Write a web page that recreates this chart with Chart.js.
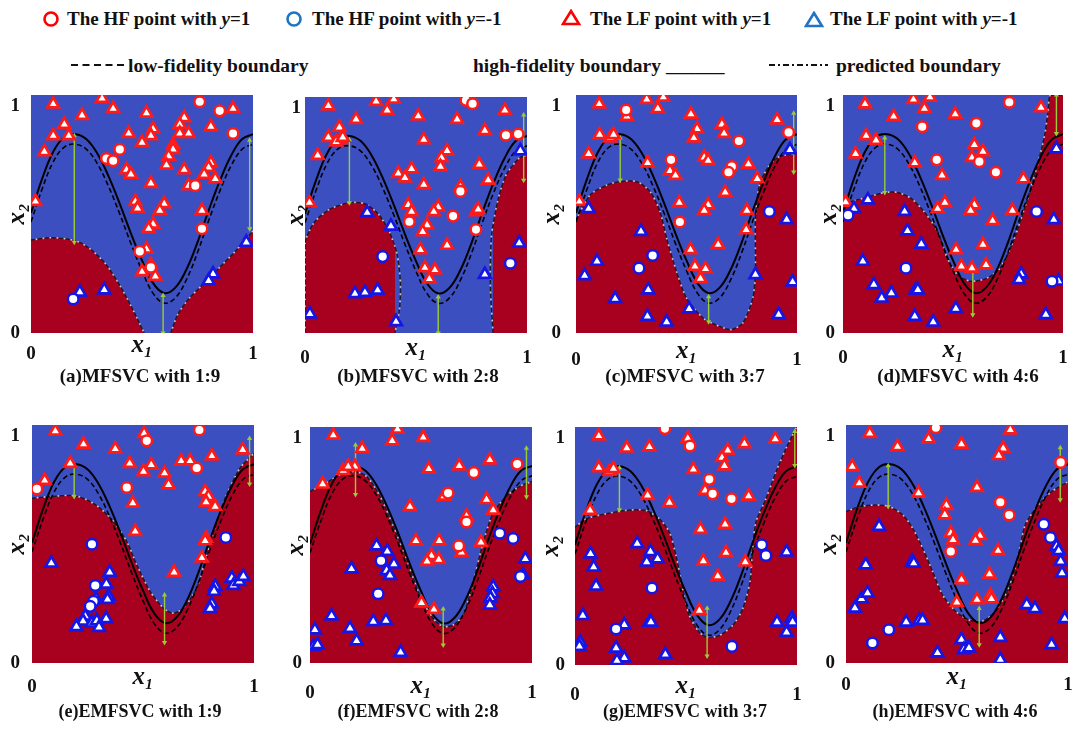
<!DOCTYPE html>
<html><head><meta charset="utf-8">
<script src="https://cdn.jsdelivr.net/npm/chart.js@4.4.0/dist/chart.umd.min.js"></script>
<style>
body{margin:0;width:1073px;height:737px;background:#fff;position:relative;overflow:hidden;font-family:"Liberation Serif","Times New Roman",serif;}
.lg{position:absolute;font-weight:bold;font-size:19px;white-space:nowrap;line-height:1;color:#111;}
.lg2{font-size:19.5px;}
.lg i{font-style:italic;}
.cap{position:absolute;font-weight:bold;white-space:nowrap;line-height:1;transform:translateX(-50%);color:#111;}
canvas{position:absolute;}
svg{position:absolute;}
</style></head><body>

<svg style="left:42px;top:10px" width="18" height="18"><circle cx="9" cy="9" r="6.5" fill="none" stroke="#ff0000" stroke-width="2.6"/></svg>
<div class="lg" style="left:67px;top:9px">The HF point with <i>y</i>=1</div>
<svg style="left:285px;top:10px" width="18" height="18"><circle cx="9" cy="9" r="6.5" fill="none" stroke="#1f74c4" stroke-width="2.6"/></svg>
<div class="lg" style="left:312px;top:9px">The HF point with <i>y</i>=-1</div>
<svg style="left:561px;top:9px" width="20" height="18"><polygon points="10,2 18,15 2,15" fill="none" stroke="#ff0000" stroke-width="2.6"/></svg>
<div class="lg" style="left:590px;top:9px">The LF point with <i>y</i>=1</div>
<svg style="left:804px;top:11px" width="20" height="18"><polygon points="10,2 18,15 2,15" fill="none" stroke="#1f74c4" stroke-width="2.6"/></svg>
<div class="lg" style="left:830px;top:9px">The LF point with <i>y</i>=-1</div>

<svg style="left:70px;top:60px" width="56" height="10"><line x1="1" y1="5" x2="55" y2="5" stroke="#111" stroke-width="2" stroke-dasharray="7,4.5"/></svg>
<div class="lg lg2" style="left:128px;top:56px">low-fidelity boundary</div>
<div class="lg lg2" style="left:473px;top:56px">high-fidelity boundary ______</div>
<svg style="left:768px;top:60px" width="62" height="10"><line x1="1" y1="5" x2="60" y2="5" stroke="#111" stroke-width="2" stroke-dasharray="6,3,2,3"/></svg>
<div class="lg lg2" style="left:836px;top:56px">predicted boundary</div>

<script>
// ---------------- data ----------------
const xTicks = [0, 1];
const yTicks = [0, 1];
const yTicksB = [1];
const captions = ['(a)MFSVC with 1:9','(b)MFSVC with 2:8','(c)MFSVC with 3:7','(d)MFSVC with 4:6',
                  '(e)EMFSVC with 1:9','(f)EMFSVC with 2:8','(g)EMFSVC with 3:7','(h)EMFSVC with 4:6'];

const boundX     = [0,0.05,0.10,0.15,0.20,0.25,0.30,0.35,0.40,0.45,0.50,0.55,0.60,0.65,0.70,0.75,0.80,0.85,0.90,0.95,1.00];
const hfBoundary = [0.53,0.68,0.80,0.865,0.877,0.855,0.79,0.69,0.57,0.44,0.32,0.22,0.176,0.20,0.28,0.40,0.54,0.67,0.78,0.855,0.877];
const lfBoundary = [0.49,0.635,0.755,0.82,0.833,0.81,0.745,0.645,0.525,0.395,0.275,0.175,0.132,0.155,0.235,0.355,0.495,0.625,0.735,0.81,0.833];

// predicted boundary (top edge of the y=-1 / red region), one or more segments per panel
const predA = [[[0,0.41],[0.08,0.42],[0.16,0.415],[0.22,0.40],[0.28,0.36],[0.34,0.30],[0.40,0.21],[0.45,0.12],[0.49,0.04],[0.51,0]],
               [[0.63,0],[0.66,0.08],[0.71,0.15],[0.77,0.21],[0.84,0.28],[0.92,0.36],[1,0.45]]];
const predB = [[[0,0],[0,0.2],[0,0.40],[0.04,0.49],[0.11,0.55],[0.20,0.58],[0.27,0.575],[0.33,0.53],[0.38,0.45],[0.415,0.35],[0.43,0.22],[0.425,0.1],[0.405,0]],
               [[0.847,0],[0.835,0.21],[0.84,0.43],[0.87,0.595],[0.907,0.705],[0.967,0.78],[1,0.79]]];
const predC = [[[0,0.50],[0.065,0.61],[0.14,0.653],[0.20,0.668],[0.275,0.668],[0.335,0.624],[0.38,0.536],[0.41,0.418],[0.455,0.27],[0.50,0.154],[0.575,0.066],[0.65,0.029],[0.703,0.015],[0.755,0.044],[0.80,0.154],[0.812,0.27],[0.812,0.507],[0.83,0.653],[0.875,0.74],[0.92,0.778],[1.0,0.793]]];
const predD = [[[0,0.565],[0.038,0.58],[0.113,0.60],[0.19,0.62],[0.248,0.62],[0.308,0.595],[0.368,0.536],[0.43,0.448],[0.474,0.33],[0.52,0.257],[0.58,0.228],[0.654,0.242],[0.714,0.286],[0.774,0.404],[0.835,0.58],[0.88,0.727],[0.917,0.874],[0.932,0.977],[0.943,1.05],[1,1.05]]];
const predE = [[[0,0.727],[0.082,0.734],[0.187,0.739],[0.247,0.72],[0.307,0.683],[0.367,0.624],[0.427,0.536],[0.472,0.433],[0.532,0.316],[0.592,0.242],[0.637,0.22],[0.682,0.242],[0.742,0.33],[0.787,0.477],[0.832,0.624],[0.877,0.742],[0.937,0.86],[1.0,0.925]]];
const predF = [[[0,0.764],[0.06,0.793],[0.135,0.837],[0.202,0.852],[0.255,0.83],[0.315,0.742],[0.375,0.609],[0.435,0.463],[0.495,0.30],[0.555,0.198],[0.60,0.162],[0.645,0.169],[0.69,0.213],[0.735,0.36],[0.78,0.536],[0.825,0.668],[0.885,0.742],[0.945,0.786],[1.0,0.808]]];
const predG = [[[0,0.608],[0.05,0.645],[0.14,0.667],[0.23,0.682],[0.32,0.682],[0.38,0.645],[0.425,0.586],[0.455,0.483],[0.485,0.336],[0.515,0.218],[0.56,0.144],[0.598,0.122],[0.65,0.13],[0.71,0.174],[0.755,0.247],[0.788,0.365],[0.80,0.513],[0.815,0.63],[0.86,0.733],[0.905,0.851],[0.95,0.954],[0.995,1.043],[1.0,1.05]]];
const predH = [[[0,0.668],[0.0625,0.69],[0.137,0.697],[0.196,0.69],[0.256,0.653],[0.30,0.595],[0.345,0.507],[0.39,0.404],[0.435,0.30],[0.494,0.228],[0.554,0.19],[0.613,0.184],[0.673,0.228],[0.732,0.33],[0.777,0.477],[0.807,0.609],[0.866,0.697],[0.926,0.756],[1.0,0.80]]];

// green gap arrows: [x, yTop, yBottom]
const arrowsA = [[0.195,0.87,0.40],[0.595,0.165,0],[0.985,0.85,0.46]];
const arrowsB = [[0.20,0.86,0.58],[0.60,0.16,0],[0.985,0.97,0.68]];
const arrowsC = [[0.20,0.86,0.675],[0.60,0.16,0.05],[0.985,0.97,0.71]];
const arrowsD = [[0.19,0.86,0.62],[0.59,0.30,0.08],[0.97,1.05,0.88]];
const arrowsE = [[0.19,0.87,0.735],[0.597,0.30,0.09],[0.98,0.99,0.79]];
const arrowsF = [[0.205,0.97,0.75],[0.60,0.24,0.08],[0.975,0.955,0.74]];
const arrowsG = [[0.20,0.87,0.685],[0.595,0.25,0.04],[0.99,1.03,0.88]];
const arrowsH = [[0.19,0.87,0.69],[0.60,0.24,0.08],[0.965,0.95,0.72]];

// samples: lfPos = LF y=1 (red triangle), hfPos = HF y=1 (red circle), lfNeg = LF y=-1, hfNeg = HF y=-1
const lfPosA = [[0.10,1.01],[0.32,1.035],[0.37,0.99],[0.23,0.96],[0.15,0.92],[0.10,0.87],[0.17,0.87],[0.06,0.80],[0.52,0.97],[0.55,0.90],[0.54,0.87],[0.44,0.88],[0.50,0.84],[0.69,0.95],[0.67,0.92],[0.67,0.88],[0.71,0.88],[0.81,0.91],[0.91,0.99],[0.64,0.83],[0.64,0.81],[0.62,0.78],[0.61,0.74],[0.69,0.72],[0.81,0.75],[0.80,0.73],[0.78,0.70],[0.83,0.68],[0.71,0.65],[0.43,0.72],[0.45,0.70],[0.54,0.66],[0.02,0.58],[0.47,0.58],[0.48,0.55],[0.60,0.57],[0.58,0.54],[0.55,0.48],[0.53,0.46],[0.77,0.54],[0.52,0.37],[0.54,0.30],[0.50,0.27],[0.56,0.25]];
const hfPosA = [[0.76,1.02],[0.85,0.98],[0.91,0.88],[0.40,0.81],[0.34,0.77],[0.37,0.76],[0.74,0.65],[0.77,0.46],[0.49,0.36],[0.54,0.29]];
const lfNegA = [[0.22,0.18],[0.33,0.19],[0.97,0.40],[0.82,0.26],[0.80,0.23]];
const hfNegA = [[0.19,0.15]];

const lfPosB = [[0.105,1.01],[0.32,1.03],[0.40,1.04],[0.37,0.99],[0.23,0.95],[0.155,0.915],[0.105,0.87],[0.16,0.86],[0.14,0.85],[0.17,0.87],[0.057,0.79],[0.51,0.965],[0.685,0.95],[0.90,0.99],[0.81,0.90],[0.535,0.86],[0.64,0.81],[0.615,0.78],[0.61,0.74],[0.42,0.71],[0.45,0.69],[0.48,0.73],[0.535,0.66],[0.785,0.75],[0.825,0.68],[0.70,0.65],[0.02,0.58],[0.465,0.57],[0.48,0.54],[0.60,0.56],[0.58,0.54],[0.77,0.54],[0.78,0.55],[0.55,0.48],[0.53,0.45],[0.52,0.37],[0.64,0.39],[0.54,0.29],[0.585,0.28],[0.56,0.24]];
const hfPosB = [[0.725,1.035],[0.755,1.02],[0.905,0.88],[0.96,0.885],[0.70,0.63],[0.667,0.52],[0.47,0.495],[0.77,0.46]];
const lfNegB = [[0.28,0.535],[0.387,0.475],[0.225,0.175],[0.27,0.18],[0.327,0.19],[0.022,0.085],[0.41,0.05],[0.81,0.26],[0.965,0.40],[0.97,0.81]];
const hfNegB = [[0.35,0.34],[0.925,0.31]];

const lfPosC = [[0.105,1.01],[0.32,1.03],[0.395,1.04],[0.37,0.99],[0.23,0.955],[0.52,0.965],[0.66,0.92],[0.67,0.88],[0.91,0.94],[0.548,0.90],[0.533,0.86],[0.107,0.875],[0.155,0.86],[0.17,0.875],[0.057,0.79],[0.324,0.75],[0.58,0.775],[0.598,0.76],[0.78,0.745],[0.82,0.68],[0.425,0.715],[0.45,0.695],[0.675,0.62],[0.015,0.58],[0.467,0.575],[0.598,0.565],[0.58,0.54],[0.773,0.54],[0.77,0.455],[0.643,0.39],[0.518,0.367],[0.538,0.294],[0.586,0.283],[0.563,0.24]];
const hfPosC = [[0.227,0.984],[0.737,0.847],[0.962,0.885],[0.43,0.764],[0.705,0.734],[0.69,0.709],[0.47,0.49]];
const lfNegC = [[0.057,0.548],[0.953,0.50],[0.294,0.448],[0.095,0.316],[0.039,0.253],[0.327,0.19],[0.177,0.151],[0.512,0.106],[0.323,0.073],[0.41,0.048],[0.812,0.257],[0.98,0.225],[0.917,0.081],[0.968,0.808]];
const hfNegC = [[0.347,0.342],[0.285,0.286],[0.875,0.536]];

const lfPosD = [[0.10,1.01],[0.32,1.03],[0.395,1.04],[0.37,0.99],[0.23,0.955],[0.51,0.965],[0.90,0.994],[0.105,0.87],[0.15,0.85],[0.057,0.79],[0.597,0.83],[0.636,0.80],[0.586,0.774],[0.326,0.75],[0.45,0.695],[0.82,0.68],[0.012,0.577],[0.463,0.575],[0.43,0.548],[0.597,0.565],[0.58,0.54],[0.77,0.54],[0.68,0.495],[0.636,0.39],[0.514,0.367],[0.538,0.294],[0.586,0.286],[0.65,0.30]];
const hfPosD = [[0.756,1.018],[0.36,0.91],[0.606,0.925],[0.426,0.764],[0.62,0.756],[0.695,0.709]];
const lfNegD = [[0.113,0.587],[0.05,0.548],[0.28,0.536],[0.293,0.45],[0.356,0.392],[0.09,0.316],[0.14,0.213],[0.176,0.154],[0.22,0.176],[0.33,0.19],[0.34,0.19],[0.326,0.073],[0.41,0.048],[0.513,0.107],[0.81,0.26],[0.80,0.235],[0.958,0.50],[0.98,0.228],[0.922,0.081],[0.97,0.812]];
const hfNegD = [[0.023,0.52],[0.286,0.286],[0.88,0.536],[0.95,0.228]];

const lfPosE = [[0.105,1.023],[0.232,0.965],[0.375,0.944],[0.505,1.013],[0.44,0.88],[0.537,0.874],[0.502,0.844],[0.597,0.837],[0.615,0.786],[0.672,0.891],[0.712,0.891],[0.81,0.913],[0.949,0.94],[0.172,0.88],[0.057,0.805],[0.454,0.705],[0.465,0.58],[0.78,0.756],[0.795,0.734],[0.784,0.709],[0.825,0.69],[0.784,0.55],[0.78,0.539],[0.765,0.463],[0.64,0.40]];
const hfPosE = [[0.754,1.028],[0.517,0.98],[0.742,0.86],[0.427,0.774],[0.022,0.768]];
const lfNegE = [[0.087,0.44],[0.35,0.40],[0.335,0.348],[0.345,0.294],[0.34,0.28],[0.288,0.283],[0.24,0.206],[0.23,0.184],[0.20,0.16],[0.27,0.176],[0.292,0.186],[0.302,0.157],[0.334,0.195],[0.825,0.338],[0.82,0.316],[0.81,0.26],[0.802,0.24],[0.90,0.374],[0.907,0.342],[0.934,0.36],[0.952,0.382]];
const hfNegE = [[0.873,0.554],[0.27,0.524],[0.285,0.342],[0.277,0.272],[0.262,0.25]];

const lfPosF = [[0.105,1.013],[0.394,1.04],[0.37,0.988],[0.51,1.003],[0.235,0.954],[0.202,0.874],[0.15,0.856],[0.172,0.874],[0.057,0.796],[0.535,0.863],[0.672,0.877],[0.81,0.903],[0.795,0.727],[0.825,0.68],[0.604,0.742],[0.45,0.695],[0.705,0.653],[0.477,0.543],[0.582,0.543],[0.682,0.492],[0.547,0.477],[0.527,0.452],[0.58,0.46],[0.77,0.536],[0.558,0.238],[0.502,0.267]];
const hfPosF = [[0.933,0.885],[0.738,0.847],[0.622,0.756],[0.705,0.627],[0.67,0.521]];
const lfNegF = [[0.30,0.521],[0.348,0.496],[0.378,0.44],[0.345,0.411],[0.36,0.389],[0.187,0.418],[0.97,0.463],[0.825,0.338],[0.822,0.308],[0.813,0.289],[0.81,0.257],[0.097,0.209],[0.18,0.154],[0.285,0.184],[0.342,0.188],[0.022,0.147],[0.21,0.098],[0.015,0.073],[0.034,0.081],[0.408,0.047],[0.96,0.392]];
const hfNegF = [[0.855,0.577],[0.915,0.554],[0.32,0.455],[0.307,0.308],[0.948,0.385]];

const lfPosG = [[0.107,1.01],[0.233,0.957],[0.335,0.962],[0.508,1.00],[0.763,0.976],[0.902,0.996],[0.688,0.947],[0.662,0.915],[0.673,0.878],[0.107,0.87],[0.155,0.854],[0.173,0.866],[0.533,0.863],[0.586,0.77],[0.327,0.748],[0.425,0.716],[0.782,0.745],[0.068,0.682],[0.565,0.598],[0.676,0.62],[0.578,0.458],[0.68,0.495],[0.767,0.454],[0.643,0.392],[0.56,0.24]];
const hfPosG = [[0.405,1.043],[0.518,0.966],[0.605,0.819],[0.62,0.755],[0.705,0.733]];
const lfNegG = [[0.28,0.535],[0.34,0.50],[0.372,0.468],[0.323,0.454],[0.07,0.49],[0.084,0.432],[0.095,0.348],[0.035,0.218],[0.023,0.10],[0.02,0.082],[0.185,0.074],[0.222,0.177],[0.335,0.189],[0.342,0.189],[0.222,0.031],[0.189,0.019],[0.407,0.046],[0.953,0.498],[0.91,0.189],[0.977,0.206],[0.98,0.189],[0.953,0.144]];
const hfNegG = [[0.841,0.53],[0.86,0.483],[0.347,0.34],[0.185,0.159],[0.707,0.082]];

const lfPosH = [[0.107,1.013],[0.372,0.988],[0.232,0.954],[0.52,0.965],[0.74,1.028],[0.708,0.947],[0.688,0.915],[0.028,0.866],[0.06,0.793],[0.59,0.774],[0.327,0.749],[0.452,0.695],[0.445,0.653],[0.472,0.573],[0.482,0.543],[0.603,0.562],[0.583,0.54],[0.685,0.495],[0.646,0.392],[0.52,0.367],[0.65,0.298],[0.655,0.283],[0.59,0.279],[0.499,0.267]];
const hfPosH = [[0.405,1.038],[0.695,0.709],[0.735,0.653],[0.472,0.492],[0.967,0.885]];
const lfNegH = [[0.149,0.602],[0.089,0.433],[0.298,0.448],[0.305,0.44],[0.04,0.242],[0.07,0.283],[0.097,0.308],[0.271,0.18],[0.33,0.188],[0.345,0.188],[0.412,0.044],[0.52,0.103],[0.531,0.059],[0.554,0.066],[0.695,0.113],[0.695,0.015],[0.814,0.257],[0.851,0.24],[0.926,0.081],[0.985,0.195],[0.948,0.514],[0.958,0.495],[0.967,0.448],[0.973,0.396]];
const hfNegH = [[0.891,0.612],[0.921,0.554],[0.193,0.147],[0.119,0.088]];

// ---------------- layout / style ----------------
const BLUE = '#3c4fc0', RED = '#a8001f', GREEN = '#9acd32';
const PT_RED = '#ff1a1a', PT_BLUE = '#1515e6';
const FONT = "'Liberation Serif','Times New Roman',serif";
// rect = plot area [left, top, right, bottom]; xtp/ytp = tick label paddings; axH = x-axis box height; ytt = y-title padding
const panels = [
  {rect:[31,95,253,333],   xtp:10, ytp:11, axH:28, ytt:10, pred:predA, arrows:arrowsA, lfPos:lfPosA, hfPos:hfPosA, lfNeg:lfNegA, hfNeg:hfNegA, yt:yTicks,  capY:366, capX:140, capSize:19},
  {rect:[305,97,527,333],  xtp:14, ytp:4,  axH:31, ytt:15, pred:predB, arrows:arrowsB, lfPos:lfPosB, hfPos:hfPosB, lfNeg:lfNegB, hfNeg:hfNegB, yt:yTicksB, capY:366, capX:418, capSize:19},
  {rect:[576,95,797,333],  xtp:16, ytp:15, axH:34, ytt:0,  pred:predC, arrows:arrowsC, lfPos:lfPosC, hfPos:hfPosC, lfNeg:lfNegC, hfNeg:hfNegC, yt:yTicks,  capY:366, capX:685, capSize:19},
  {rect:[843,95,1063,333], xtp:14, ytp:8,  axH:33, ytt:10, pred:predD, arrows:arrowsD, lfPos:lfPosD, hfPos:hfPosD, lfNeg:lfNegD, hfNeg:hfNegD, yt:yTicks,  capY:366, capX:958, capSize:19},
  {rect:[32,425,254,663],  xtp:13, ytp:12, axH:30, ytt:9,  pred:predE, arrows:arrowsE, lfPos:lfPosE, hfPos:hfPosE, lfNeg:lfNegE, hfNeg:hfNegE, yt:yTicks,  capY:702, capX:140, capSize:18},
  {rect:[310,427,532,663], xtp:19, ytp:8,  axH:39, ytt:10, pred:predF, arrows:arrowsF, lfPos:lfPosF, hfPos:hfPosF, lfNeg:lfNegF, hfNeg:hfNegF, yt:yTicks,  capY:702, capX:418, capSize:18},
  {rect:[575,427,797,665], xtp:19, ytp:10, axH:37, ytt:0,  pred:predG, arrows:arrowsG, lfPos:lfPosG, hfPos:hfPosG, lfNeg:lfNegG, hfNeg:hfNegG, yt:yTicks,  capY:702, capX:685, capSize:18},
  {rect:[846,425,1068,663],xtp:11, ytp:11, axH:30, ytt:7,  pred:predH, arrows:arrowsH, lfPos:lfPosH, hfPos:hfPosH, lfNeg:lfNegH, hfNeg:hfNegH, yt:yTicks,  capY:702, capX:955, capSize:18}
];

const bgPlugin = {
  id: 'bgArea',
  beforeDatasetsDraw(chart) {
    const {ctx, chartArea: a} = chart;
    ctx.save(); ctx.fillStyle = BLUE; ctx.fillRect(a.left, a.top, a.width, a.height); ctx.restore();
  }
};

const toXY = arr => arr.map(p => ({x: p[0], y: p[1]}));

function makePanel(p, idx) {
  const [L, T, R, B] = p.rect;
  const padL = 38, padT = 10, padR = 10, axH = p.axH, padB = 20;
  const w = (R - L) + padL + padR, h = (B - T) + padT + axH + padB;
  const c = document.createElement('canvas');
  c.width = w; c.height = h;
  c.style.left = (L - padL) + 'px'; c.style.top = (T - padT) + 'px';
  c.style.width = w + 'px'; c.style.height = h + 'px';
  document.body.appendChild(c);

  const datasets = [];
  p.pred.forEach(seg => {
    datasets.push({
      data: toXY(seg), showLine: true, pointRadius: 0, fill: 'origin',
      backgroundColor: RED, borderColor: '#1c1c1c', borderWidth: 1.4, borderDash: [4, 3],
      tension: 0.25, order: 10
    });
    datasets.push({
      data: toXY(seg), showLine: true, pointRadius: 0, fill: false,
      borderColor: '#c9c9c9', borderWidth: 1.6, borderDash: [1.5, 5.5], borderDashOffset: -4.8,
      tension: 0.25, order: 9
    });
  });
  datasets.push({data: boundX.map((x, i) => ({x, y: lfBoundary[i]})), showLine: true, pointRadius: 0,
    borderColor: '#000', borderWidth: 1.6, borderDash: [5, 3], tension: 0.4, fill: false, order: 6});
  datasets.push({data: boundX.map((x, i) => ({x, y: hfBoundary[i]})), showLine: true, pointRadius: 0,
    borderColor: '#000', borderWidth: 2, tension: 0.4, fill: false, order: 5});
  p.arrows.forEach(a => datasets.push({
    data: [{x: a[0], y: a[1]}, {x: a[0], y: a[2]}], showLine: true, fill: false,
    borderColor: GREEN, borderWidth: 1.4, pointStyle: 'triangle', pointRadius: 3,
    pointRotation: [0, 180], pointBackgroundColor: GREEN, pointBorderColor: GREEN, pointBorderWidth: 0, order: 4
  }));
  const pts = (arr, style, col, r, bw, order) => ({
    data: toXY(arr), showLine: false, fill: false, pointStyle: style, pointRadius: r,
    pointBackgroundColor: '#fff', pointBorderColor: col, pointBorderWidth: bw, order
  });
  datasets.push(pts(p.lfNeg, 'triangle', PT_BLUE, 6.8, 2.7, 2));
  datasets.push(pts(p.hfNeg, 'circle', PT_BLUE, 5.3, 2.5, 1));
  datasets.push(pts(p.lfPos, 'triangle', PT_RED, 6.8, 2.7, 2));
  datasets.push(pts(p.hfPos, 'circle', PT_RED, 5.3, 2.5, 1));

  new Chart(c, {
    type: 'line',
    data: {datasets},
    options: {
      responsive: false, animation: false, events: [],
      layout: {padding: {top: padT, right: padR, bottom: padB, left: 0}},
      plugins: {legend: {display: false}, tooltip: {enabled: false}},
      scales: {
        x: {
          type: 'linear', min: 0, max: 1,
          grid: {display: false, drawTicks: false}, border: {display: false},
          afterBuildTicks: a => { a.ticks = xTicks.map(v => ({value: v})); },
          afterFit: s => { s.height = axH; s.paddingLeft = 0; s.paddingRight = 0; },
          ticks: {font: {family: FONT, weight: 'bold', size: 19}, color: '#111', padding: p.xtp, maxRotation: 0, autoSkip: false,
                  callback: v => String(v)},
          title: {display: true, text: 'x₁', color: '#111', font: {family: FONT, style: 'italic', weight: 'bold', size: 25}, padding: {top: 0, bottom: 0}}
        },
        y: {
          type: 'linear', min: 0, max: 1.05,
          grid: {display: false, drawTicks: false}, border: {display: false},
          afterBuildTicks: a => { a.ticks = p.yt.map(v => ({value: v})); },
          afterFit: s => { s.width = padL; s.paddingTop = 0; s.paddingBottom = 0; },
          ticks: {font: {family: FONT, weight: 'bold', size: 19}, color: '#111', padding: p.ytp, autoSkip: false,
                  callback: v => String(v)},
          title: {display: true, text: 'x₂', color: '#111', font: {family: FONT, style: 'italic', weight: 'bold', size: 25}, padding: {top: p.ytt, bottom: 0}}
        }
      }
    },
    plugins: [bgPlugin]
  });

  const cap = document.createElement('div');
  cap.className = 'cap';
  cap.textContent = captions[idx];
  cap.style.left = p.capX + 'px'; cap.style.top = p.capY + 'px'; cap.style.fontSize = p.capSize + 'px';
  document.body.appendChild(cap);
}

panels.forEach(makePanel);
</script>
</body></html>
